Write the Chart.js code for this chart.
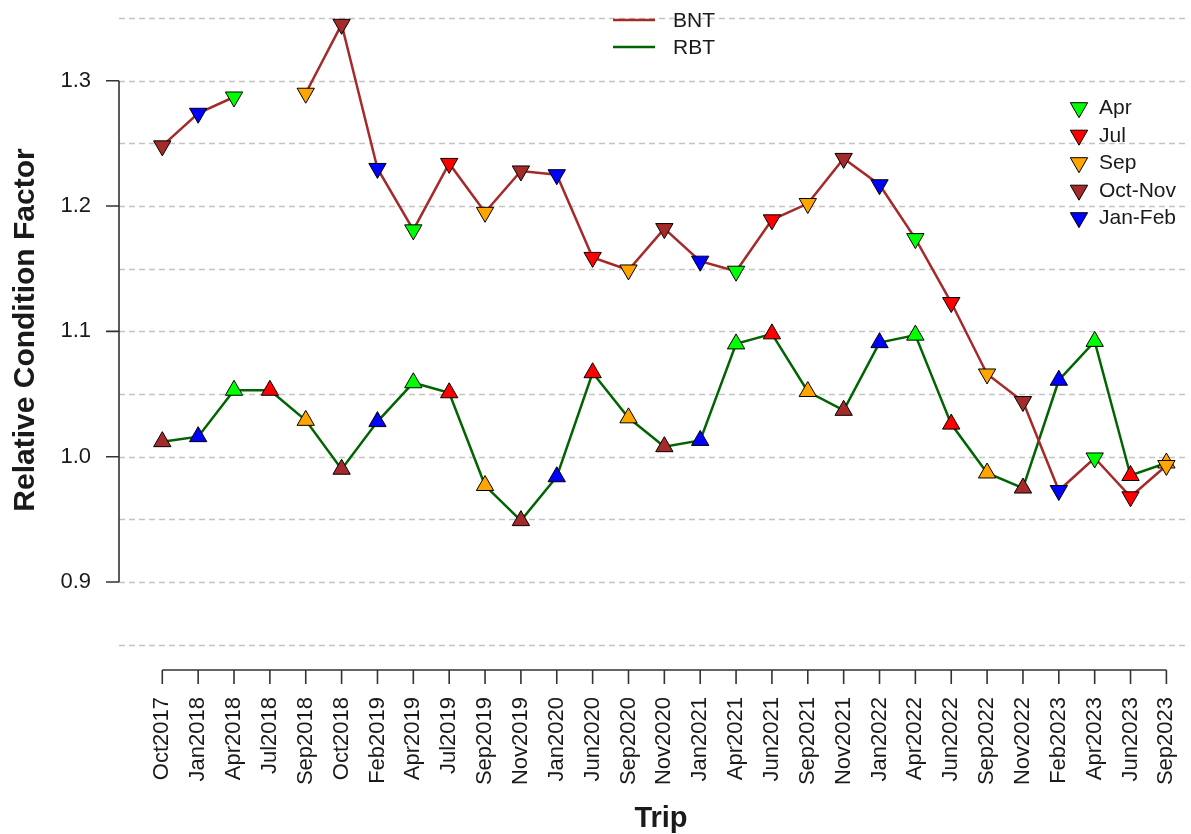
<!DOCTYPE html>
<html>
<head>
<meta charset="utf-8">
<title>Relative Condition Factor by Trip</title>
<script src="https://cdn.jsdelivr.net/npm/chart.js@4.4.1/dist/chart.umd.min.js"></script>
<style>
    html, body { margin: 0; padding: 0; background: #fff; }
    #chart_container { position: relative; width: 1191px; height: 834px; }
</style>
</head>
<body>
<div id="chart_container"><canvas id="condition_chart"></canvas></div>
<script>
// Trips (x axis categories)
var trips = ['Oct2017', 'Jan2018', 'Apr2018', 'Jul2018', 'Sep2018', 'Oct2018', 'Feb2019', 'Apr2019',
    'Jul2019', 'Sep2019', 'Nov2019', 'Jan2020', 'Jun2020', 'Sep2020', 'Nov2020', 'Jan2021',
    'Apr2021', 'Jun2021', 'Sep2021', 'Nov2021', 'Jan2022', 'Apr2022', 'Jun2022', 'Sep2022',
    'Nov2022', 'Feb2023', 'Apr2023', 'Jun2023', 'Sep2023'];

// season group of every trip (gives the marker colour)
var seasons = ['Oct-Nov', 'Jan-Feb', 'Apr', 'Jul', 'Sep', 'Oct-Nov', 'Jan-Feb', 'Apr',
    'Jul', 'Sep', 'Oct-Nov', 'Jan-Feb', 'Jul', 'Sep', 'Oct-Nov', 'Jan-Feb',
    'Apr', 'Jul', 'Sep', 'Oct-Nov', 'Jan-Feb', 'Apr', 'Jul', 'Sep',
    'Oct-Nov', 'Jan-Feb', 'Apr', 'Jul', 'Sep'];

// relative condition factor, brown trout (no sample Jul2018)
var bnt = [1.248, 1.274, 1.287, null, 1.290, 1.345, 1.230, 1.181,
    1.234, 1.195, 1.228, 1.225, 1.159, 1.149, 1.182, 1.156,
    1.148, 1.189, 1.202, 1.238, 1.217, 1.174, 1.123, 1.066,
    1.044, 0.973, 0.999, 0.968, 0.993];

// relative condition factor, rainbow trout
var rbt = [1.012, 1.016, 1.053, 1.053, 1.029, 0.990, 1.028, 1.059,
    1.051, 0.977, 0.949, 0.984, 1.067, 1.031, 1.008, 1.013,
    1.090, 1.098, 1.052, 1.037, 1.091, 1.097, 1.026, 0.987,
    0.975, 1.061, 1.092, 0.985, 0.995];

var yTicks = [0.9, 1.0, 1.1, 1.2, 1.3];
var yGrid = [0.85, 0.9, 0.95, 1.0, 1.05, 1.1, 1.15, 1.2, 1.25, 1.3, 1.35];

var seasonNames = ['Apr', 'Jul', 'Sep', 'Oct-Nov', 'Jan-Feb'];
var seasonColors = ['#00FF00', '#FF0000', '#FFA500', '#A52A2A', '#0000FF'];

var speciesNames = ['BNT', 'RBT'];
var speciesColors = ['#A52A2A', '#006400'];

(function () {

    "use strict";

    var FONT = "'Liberation Sans', Arial, sans-serif";
    var TEXT = '#1a1a1a';

    // where the first/last trip and two y ticks sit on the page
    var FRAME = { x0: 162.3, x1: 1166.4, y10: 456.7, y13: 80.7, gridRight: 1187 };

    function seasonColor(s) {
        return seasonColors[seasonNames.indexOf(s)];
    }

    function noPadding(scale) {
        scale.paddingTop = 0;
        scale.paddingBottom = 0;
        scale.paddingLeft = 0;
        scale.paddingRight = 0;
        scale.getPadding = function () {
            return { left: 0, top: 0, right: 0, bottom: 0 };
        };
    }

    function triangle(ctx, cx, cy, r, down) {
        var d = down ? 1 : -1;
        ctx.beginPath();
        ctx.moveTo(cx, cy + d * r);
        ctx.lineTo(cx - r * 0.866, cy - d * r / 2);
        ctx.lineTo(cx + r * 0.866, cy - d * r / 2);
        ctx.closePath();
        ctx.fill();
        ctx.stroke();
    }

    // R style axes: dashed grid, axis lines only between first and last tick
    var rAxes = {
        id: 'rAxes',
        beforeDatasetsDraw: function (chart) {
            var ctx = chart.ctx;
            var area = chart.chartArea;
            var xs = chart.scales.x;
            var ys = chart.scales.y;
            ctx.save();

            ctx.strokeStyle = '#c4c4c4';
            ctx.lineWidth = 1.3;
            ctx.setLineDash([6, 4]);
            yGrid.forEach(function (v) {
                var py = Math.round(ys.getPixelForValue(v)) + 0.5;
                ctx.beginPath();
                ctx.moveTo(area.left, py);
                ctx.lineTo(FRAME.gridRight, py);
                ctx.stroke();
            });
            ctx.setLineDash([]);

            ctx.strokeStyle = '#333';
            ctx.lineWidth = 1.6;
            ctx.beginPath();
            ctx.moveTo(area.left, ys.getPixelForValue(yTicks[0]));
            ctx.lineTo(area.left, ys.getPixelForValue(yTicks[yTicks.length - 1]));
            yTicks.forEach(function (v) {
                var py = ys.getPixelForValue(v);
                ctx.moveTo(area.left, py);
                ctx.lineTo(area.left - 13, py);
            });
            ctx.moveTo(xs.getPixelForValue(0), area.bottom);
            ctx.lineTo(xs.getPixelForValue(trips.length - 1), area.bottom);
            trips.forEach(function (t, i) {
                var px = xs.getPixelForValue(i);
                ctx.moveTo(px, area.bottom);
                ctx.lineTo(px, area.bottom + 14);
            });
            ctx.stroke();
            ctx.restore();
        }
    };

    // titles and the two legends
    var rLabels = {
        id: 'rLabels',
        afterDraw: function (chart) {
            var ctx = chart.ctx;
            ctx.save();
            ctx.fillStyle = TEXT;
            ctx.textAlign = 'center';
            ctx.textBaseline = 'alphabetic';

            ctx.font = 'bold 29px ' + FONT;
            ctx.fillText('Trip', 661, 827);

            ctx.font = 'bold 30px ' + FONT;
            ctx.save();
            ctx.translate(34, 330);
            ctx.rotate(-Math.PI / 2);
            ctx.fillText('Relative Condition Factor', 0, 0);
            ctx.restore();

            ctx.font = '21px ' + FONT;
            ctx.textAlign = 'left';
            ctx.textBaseline = 'middle';

            speciesNames.forEach(function (name, i) {
                var y = 20 + i * 27;
                ctx.strokeStyle = speciesColors[i];
                ctx.lineWidth = 2.5;
                ctx.beginPath();
                ctx.moveTo(613, y);
                ctx.lineTo(655, y);
                ctx.stroke();
                ctx.fillStyle = TEXT;
                ctx.fillText(name, 673, y + 1);
            });

            ctx.strokeStyle = '#000';
            ctx.lineWidth = 1;
            seasonNames.forEach(function (name, i) {
                var y = 107.7 + i * 27.5;
                ctx.fillStyle = seasonColors[i];
                triangle(ctx, 1079, y, 10, true);
                ctx.fillStyle = TEXT;
                ctx.fillText(name, 1099, y + 1);
            });
            ctx.restore();
        }
    };

    window.TripChart = {

        init: function (config) {
            this.config = config;
            this.canvas_id = config.canvas_id;
            this.chartJSConfig = {};
            this.jsChart = {};
            return this;
        },

        series: function (values, i, down) {
            return {
                label: speciesNames[i],
                data: values.map(function (v, k) { return { x: k, y: v }; }),
                borderColor: speciesColors[i],
                borderWidth: 2.5,
                tension: 0,
                fill: false,
                spanGaps: false,
                clip: false,
                pointStyle: 'triangle',
                rotation: down ? 180 : 0,
                pointRadius: 10,
                pointHoverRadius: 10,
                pointBorderColor: '#000',
                pointBorderWidth: 1,
                pointBackgroundColor: seasons.map(seasonColor)
            };
        },

        // fit scale ranges to the chart area Chart.js laid out (repeat until it settles)
        calibrate: function () {
            var px = (FRAME.x1 - FRAME.x0) / (trips.length - 1);
            var py = (FRAME.y10 - FRAME.y13) / 0.3;
            var last = '';

            for (var n = 0; n < 6; n++) {
                var area = this.jsChart.chartArea;
                var key = [area.left, area.right, area.top, area.bottom].join(',');
                if (key === last) {
                    break;
                }
                last = key;
                var sx = this.jsChart.options.scales.x;
                var sy = this.jsChart.options.scales.y;
                sx.min = -(FRAME.x0 - area.left) / px;
                sx.max = (area.right - FRAME.x0) / px;
                sy.max = 1 + (FRAME.y10 - area.top) / py;
                sy.min = 1 - (area.bottom - FRAME.y10) / py;
                this.jsChart.update('none');
            }
        },

        drawChart: function () {
            var tickFont = { family: FONT, size: 22 };

            this.chartJSConfig.type = 'line';
            this.chartJSConfig.data = {
                datasets: [this.series(bnt, 0, true), this.series(rbt, 1, false)]
            };
            this.chartJSConfig.options = {
                responsive: true,
                maintainAspectRatio: false,
                animation: false,
                layout: { padding: { left: 0, right: 4, top: 0, bottom: 0 } },
                plugins: { legend: { display: false }, tooltip: { enabled: false } },
                scales: {
                    x: {
                        type: 'linear',
                        min: -1.2075,
                        max: 28.575,
                        grid: { display: false, drawTicks: false },
                        border: { display: false },
                        afterBuildTicks: function (scale) {
                            scale.ticks = trips.map(function (t, i) { return { value: i }; });
                        },
                        afterFit: function (scale) {
                            scale.height = 164;
                            noPadding(scale);
                        },
                        ticks: {
                            autoSkip: false,
                            minRotation: 90,
                            maxRotation: 90,
                            padding: 27,
                            font: tickFont,
                            color: TEXT,
                            callback: function (v) { return trips[v]; }
                        }
                    },
                    y: {
                        type: 'linear',
                        min: 0.8298,
                        max: 1.3645,
                        grid: { display: false, drawTicks: false },
                        border: { display: false },
                        afterBuildTicks: function (scale) {
                            scale.ticks = yTicks.map(function (v) { return { value: v }; });
                        },
                        afterFit: function (scale) {
                            scale.width = 119;
                            noPadding(scale);
                        },
                        ticks: {
                            padding: 28,
                            font: tickFont,
                            color: TEXT,
                            callback: function (v) { return v.toFixed(1); }
                        }
                    }
                }
            };
            this.chartJSConfig.plugins = [rAxes, rLabels];

            var ctx = document.getElementById(this.canvas_id).getContext('2d');
            this.jsChart = new Chart(ctx, this.chartJSConfig);
            this.calibrate();
        }
    };

    TripChart.init({ canvas_id: 'condition_chart' }).drawChart();

})();
</script>
</body>
</html>
